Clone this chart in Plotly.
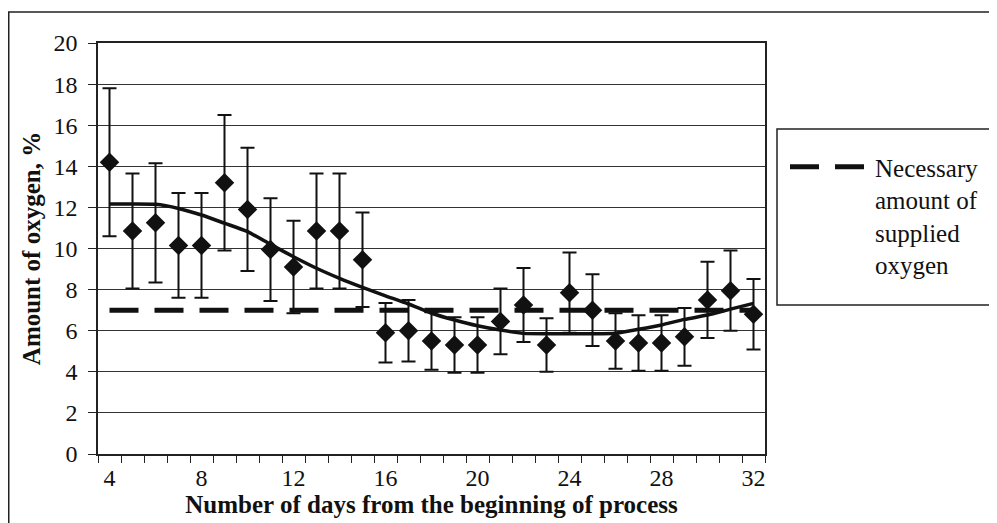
import plotly.graph_objects as go

days = list(range(4, 33))
oxygen = [14.2, 10.85, 11.25, 10.15, 10.15, 13.2, 11.9, 9.95, 9.1, 10.85, 10.85, 9.45,
          5.9, 6.0, 5.5, 5.3, 5.3, 6.45, 7.25, 5.3, 7.85, 7.0, 5.5, 5.4, 5.4, 5.7,
          7.5, 7.95, 6.8]
error = [3.6, 2.8, 2.9, 2.55, 2.55, 3.3, 3.0, 2.5, 2.25, 2.8, 2.8, 2.3,
         1.45, 1.5, 1.4, 1.35, 1.35, 1.6, 1.8, 1.3, 1.95, 1.75, 1.35, 1.35, 1.35, 1.4,
         1.85, 1.95, 1.72]
trend = [12.17, 12.17, 12.15, 11.95, 11.63, 11.23, 10.82, 10.2, 9.6, 9.04, 8.55, 8.11,
         7.7, 7.3, 6.85, 6.52, 6.24, 6.03, 5.87, 5.85, 5.85, 5.85, 5.88, 6.07, 6.28, 6.55,
         6.76, 7.05, 7.33]
necessary = [7.0] * len(days)

y_ticks = list(range(0, 21, 2))
x_ticks = list(range(4, 33, 4))
legend_name = "Necessary<br>amount of<br>supplied<br>oxygen"

FONT = "Liberation Serif"
INK = "#111111"

W, H = 997, 523
# plot area in figure coordinates (page body adds an 8px offset)
L, R, T, B = 90, 757, 35, 446


def px(x):
    return (x - L) / (R - L)


def py(y):
    return (B - y) / (B - T)


fig = go.Figure()

fig.add_trace(go.Scatter(
    x=days, y=necessary, mode="lines", name=legend_name,
    line=dict(color=INK, width=5, dash="29px,16px"),
    showlegend=True,
))

fig.add_trace(go.Scatter(
    x=days, y=trend, mode="lines", name="trend",
    line=dict(color=INK, width=3.5, shape="spline", smoothing=0.6),
    showlegend=False,
))

fig.add_trace(go.Scatter(
    x=days, y=oxygen, mode="markers", name="measured",
    marker=dict(symbol="diamond", size=15, color=INK),
    error_y=dict(type="data", array=error, visible=True, color=INK,
                 thickness=2, width=7),
    showlegend=False,
))

shapes = [
    # outer frame
    dict(type="rect", xref="paper", yref="paper",
         x0=px(0.75), x1=px(1010), y0=py(540), y1=py(4),
         line=dict(color="#222222", width=1.5), fillcolor="rgba(0,0,0,0)", layer="below"),
    # legend box
    dict(type="rect", xref="paper", yref="paper",
         x0=px(769), x1=px(985), y0=py(297), y1=py(121),
         line=dict(color="#222222", width=1.5), fillcolor="rgba(0,0,0,0)"),
]

fig.update_layout(
    width=W, height=H,
    margin=dict(l=L, r=W - R, t=T, b=H - B, pad=0),
    paper_bgcolor="white", plot_bgcolor="white",
    font=dict(family=FONT, size=24, color=INK),
    showlegend=True,
    legend=dict(
        x=px(777), xanchor="left", y=py(136), yanchor="top",
        bgcolor="rgba(0,0,0,0)", borderwidth=0,
        font=dict(family=FONT, size=25, color=INK),
        valign="top", itemwidth=80,
    ),
    shapes=shapes,
    xaxis=dict(
        range=[3.5, 32.5],
        tickmode="array", tickvals=x_ticks, ticktext=[str(v) for v in x_ticks],
        ticks="", showgrid=False, zeroline=False,
        showline=True, linecolor="#222222", linewidth=1.5, mirror=True,
        minor=dict(tickmode="linear", tick0=3.5, dtick=1, ticks="outside",
                   ticklen=7, tickwidth=1.3, tickcolor="#222222", showgrid=False),
        title=dict(text="<b>Number of days from the beginning of process</b>",
                   standoff=0, font=dict(family=FONT, size=25)),
        tickfont=dict(family=FONT, size=24),
        ticklabelstandoff=1,
    ),
    yaxis=dict(
        range=[0, 20],
        tickmode="array", tickvals=y_ticks,
        ticks="outside", ticklen=8, tickwidth=1.3, tickcolor="#222222",
        showgrid=True, gridcolor="#333333", gridwidth=1.3, zeroline=False,
        showline=True, linecolor="#222222", linewidth=1.5, mirror=True,
        title=dict(text="<b>Amount of oxygen, %</b>", standoff=6,
                   font=dict(family=FONT, size=25)),
        tickfont=dict(family=FONT, size=24),
        ticklabelstandoff=6,
    ),
)

fig.write_html("out.html")
